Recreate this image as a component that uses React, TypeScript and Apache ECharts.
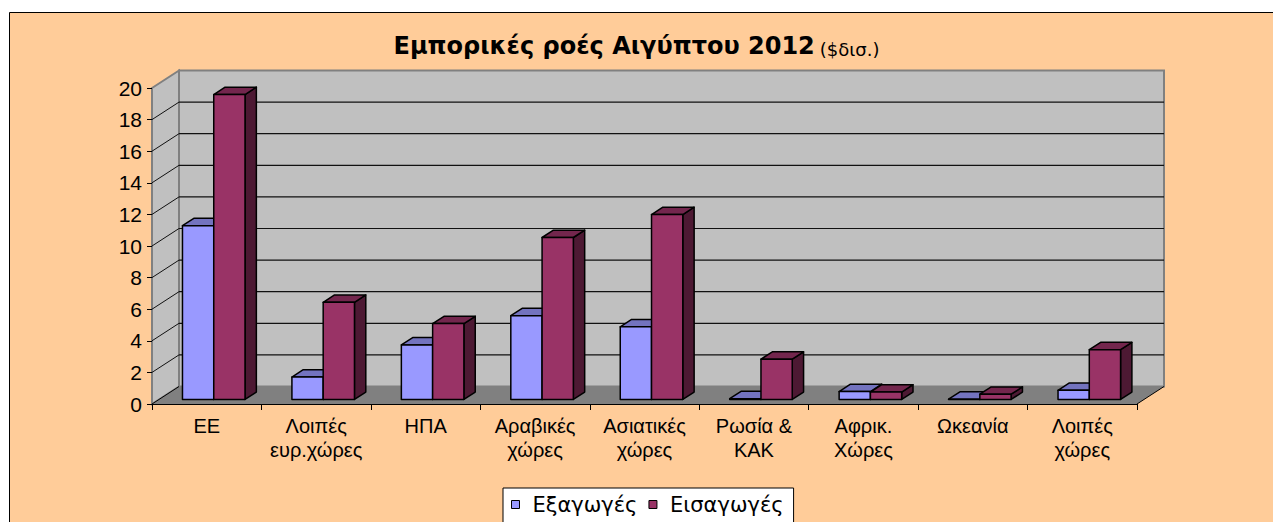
import React, { useEffect, useRef } from "react";
import * as echarts from "echarts";

const categories = [
  "ΕΕ",
  "Λοιπές\nευρ.χώρες",
  "ΗΠΑ",
  "Αραβικές\nχώρες",
  "Ασιατικές\nχώρες",
  "Ρωσία &\nΚΑΚ",
  "Αφρικ.\nΧώρες",
  "Ωκεανία",
  "Λοιπές\nχώρες",
];
const exportsValues = [11.0, 1.42, 3.45, 5.3, 4.6, 0.05, 0.5, 0.02, 0.58];
const importsValues = [19.3, 6.15, 4.8, 10.25, 11.7, 2.55, 0.47, 0.33, 3.15];
const yTicks = [0, 2, 4, 6, 8, 10, 12, 14, 16, 18, 20];
const seriesNames = ["Εξαγωγές", "Εισαγωγές"];

const FONT = "'Liberation Sans', Arial, sans-serif";
const WIDE = "'DejaVu Sans', Verdana, sans-serif";
const DX = 27;
const DY = 17.5;
const F1 = 0.26;
const F2 = 0.68;

const barColors = [
  { front: "#9999FF", top: "#7373BF", side: "#4D4D80" },
  { front: "#993366", top: "#73264D", side: "#4D1933" },
];

function wallsRenderItem(params: any, api: any) {
  const cs = params.coordSys;
  const x0 = cs.x;
  const x1 = cs.x + cs.width;
  const yB = api.coord([0, yTicks[0]])[1];
  const yT = api.coord([0, yTicks[yTicks.length - 1]])[1];
  const children: any[] = [];
  children.push({
    type: "polygon",
    shape: { points: [[x0 + DX, yT - DY], [x1 + DX, yT - DY], [x1 + DX, yB - DY], [x0 + DX, yB - DY]] },
    style: { fill: "#C0C0C0", stroke: "#808080", lineWidth: 2 },
  });
  children.push({
    type: "polygon",
    shape: { points: [[x0, yT], [x0 + DX, yT - DY], [x0 + DX, yB - DY], [x0, yB]] },
    style: { fill: "#C0C0C0", stroke: "#808080", lineWidth: 2 },
  });
  children.push({
    type: "polygon",
    shape: { points: [[x0, yB], [x1, yB], [x1 + DX, yB - DY], [x0 + DX, yB - DY]] },
    style: { fill: "#808080", stroke: "none" },
  });
  children.push({
    type: "line",
    shape: { x1: x0, y1: yB, x2: x0 + DX, y2: yB - DY },
    style: { stroke: "#000", lineWidth: 1 },
  });
  children.push({
    type: "line",
    shape: { x1: x1, y1: yB, x2: x1 + DX, y2: yB - DY },
    style: { stroke: "#000", lineWidth: 1 },
  });
  for (let i = 1; i < yTicks.length - 1; i++) {
    const y = api.coord([0, yTicks[i]])[1];
    children.push({
      type: "line",
      shape: { x1: x0 + DX, y1: y - DY, x2: x1 + DX, y2: y - DY },
      style: { stroke: "#111", lineWidth: 1.2 },
    });
    children.push({
      type: "line",
      shape: { x1: x0, y1: y, x2: x0 + DX, y2: y - DY },
      style: { stroke: "#111", lineWidth: 1 },
    });
  }
  return { type: "group", children };
}

function makeBarRenderItem(sIdx: number) {
  const c = barColors[sIdx];
  return (params: any, api: any) => {
    const cs = params.coordSys;
    const cat = api.value(0);
    const v = api.value(1);
    const band = cs.width / categories.length;
    const w = band / 3.5;
    const xL = cs.x + cat * band + 0.75 * w + sIdx * w + F1 * DX;
    const y0 = api.coord([cat, 0])[1] - F1 * DY;
    const yT = api.coord([cat, v])[1] - F1 * DY;
    const ddx = (F2 - F1) * DX;
    const ddy = (F2 - F1) * DY;
    const st = { stroke: "#000", lineWidth: 1.5, lineJoin: "round" };
    return {
      type: "group",
      children: [
        {
          type: "polygon",
          shape: { points: [[xL + w, yT], [xL + w + ddx, yT - ddy], [xL + w + ddx, y0 - ddy], [xL + w, y0]] },
          style: { fill: c.side, ...st },
        },
        {
          type: "polygon",
          shape: { points: [[xL, yT], [xL + w, yT], [xL + w + ddx, yT - ddy], [xL + ddx, yT - ddy]] },
          style: { fill: c.top, ...st },
        },
        {
          type: "rect",
          shape: { x: xL, y: yT, width: w, height: y0 - yT },
          style: { fill: c.front, ...st },
        },
      ],
    };
  };
}

export default function App() {
  const ref = useRef<HTMLDivElement>(null);
  useEffect(() => {
    if (!ref.current) return;
    const chart = echarts.init(ref.current, null, { renderer: "svg" });
    const option: any = {
      animation: false,
      backgroundColor: "#ffffff",
      graphic: [
        {
          type: "rect",
          z: -100,
          silent: true,
          shape: { x: 9.5, y: 12.5, width: 1300, height: 600 },
          style: { fill: "#FFCC99", stroke: "#000", lineWidth: 1 },
        },
      ],
      title: {
        text: "{a|Εμπορικές ροές Αιγύπτου 2012} {b|($δισ.)}",
        left: "center",
        top: 25,
        textStyle: {
          rich: {
            a: { fontFamily: WIDE, fontSize: 24, fontWeight: "bold", color: "#000", lineHeight: 28, verticalAlign: "bottom" },
            b: { fontFamily: WIDE, fontSize: 18, fontWeight: "normal", color: "#000", lineHeight: 22, verticalAlign: "bottom" },
          },
        },
      },
      legend: {
        data: seriesNames,
        left: 503,
        top: 488,
        backgroundColor: "#fff",
        borderColor: "#000",
        borderWidth: 1,
        borderRadius: 0,
        padding: [6, 10, 8, 8],
        icon: "rect",
        itemWidth: 8,
        itemHeight: 8,
        itemGap: 11,
        itemStyle: { borderColor: "#000", borderWidth: 1 },
        textStyle: { fontFamily: WIDE, fontSize: 21, color: "#000", padding: [0, 0, 0, 8] },
      },
      grid: { left: 152, right: 136, top: 88, bottom: 118 },
      xAxis: {
        type: "category",
        data: categories,
        z: 10,
        axisLine: { show: true, lineStyle: { color: "#000", width: 1 } },
        axisTick: { show: true, length: 6, lineStyle: { color: "#000", width: 1 } },
        axisLabel: { interval: 0, fontFamily: FONT, fontSize: 20, lineHeight: 24, color: "#000", margin: 10 },
        splitLine: { show: false },
      },
      yAxis: {
        type: "value",
        min: yTicks[0],
        max: yTicks[yTicks.length - 1],
        interval: yTicks[1] - yTicks[0],
        z: 10,
        axisLine: { show: false },
        axisTick: { show: true, length: 5, lineStyle: { color: "#000", width: 1 } },
        axisLabel: { fontFamily: FONT, fontSize: 21, color: "#000", margin: 10 },
        splitLine: { show: false },
      },
      series: [
        {
          type: "custom",
          name: "walls",
          z: 1,
          silent: true,
          renderItem: wallsRenderItem,
          encode: { x: 0, y: 1 },
          data: [[0, 0]],
        },
        {
          type: "custom",
          name: seriesNames[0],
          z: 2,
          itemStyle: { color: barColors[0].front, borderColor: "#000", borderWidth: 1 },
          renderItem: makeBarRenderItem(0),
          encode: { x: 0, y: 1 },
          data: exportsValues.map((v, i) => [i, v]),
        },
        {
          type: "custom",
          name: seriesNames[1],
          z: 3,
          itemStyle: { color: barColors[1].front, borderColor: "#000", borderWidth: 1 },
          renderItem: makeBarRenderItem(1),
          encode: { x: 0, y: 1 },
          data: importsValues.map((v, i) => [i, v]),
        },
      ],
    };
    chart.setOption(option);
    return () => chart.dispose();
  }, []);
  return (
    <div
      ref={ref}
      style={{ position: "fixed", left: 0, top: 0, width: 1273, height: 522, background: "#fff" }}
    />
  );
}
